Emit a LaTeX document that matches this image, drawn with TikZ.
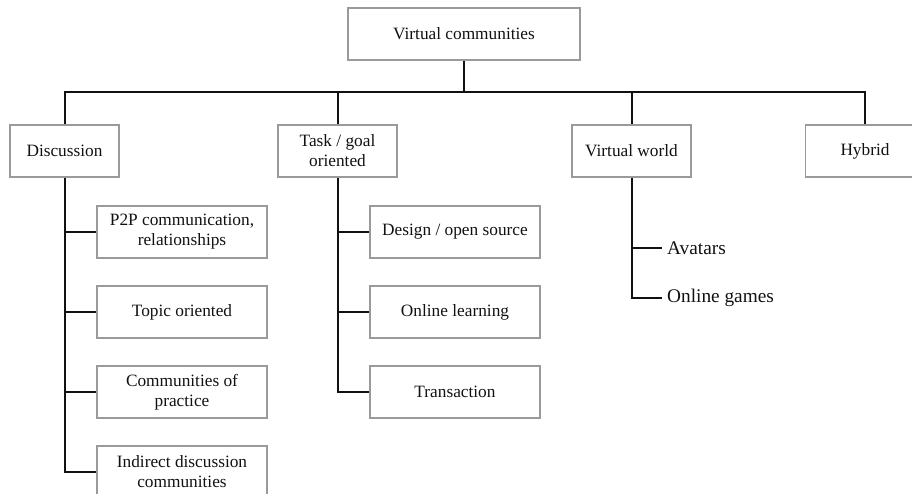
\documentclass[tikz,border=0pt]{standalone}
\usepackage{fontspec}
\setmainfont{Liberation Serif}
\definecolor{boxgray}{HTML}{9A9A9A}
\definecolor{inkblack}{HTML}{111111}
\begin{document}
\begin{tikzpicture}[x=1pt,y=-1pt,
  txt/.style={font=\fontsize{17.3}{20}\selectfont, text=inkblack},
  box/.style={txt, draw=boxgray, line width=1.7pt, rectangle, align=center,
              minimum height=52pt, inner sep=0pt},
  topbox/.style={box, minimum width=232pt},
  catbox/.style={box, minimum width=119pt},
  subbox/.style={box, minimum width=170pt},
  leaf/.style={font=\fontsize{19.3}{22}\selectfont, text=inkblack,
               anchor=west, inner xsep=5pt, inner ysep=0pt},
  wire/.style={line width=2pt, draw=inkblack}]
\useasboundingbox (0,0) rectangle (912,493);

% root and the four community types
\node[topbox] (root) at (464,34) {Virtual communities};
\node[catbox, minimum width=109pt] (disc) at (64.5,151) {Discussion};
\node[catbox] (task) at (337.5,151) {Task / goal\\oriented};
\node[catbox] (vw)   at (631.5,151) {Virtual world};
\node[catbox] (hyb)  at (865,151) {Hybrid};

% discussion subtypes
\node[subbox] (d1) at (182,232) {P2P communication,\\relationships};
\node[subbox] (d2) at (182,312) {Topic oriented};
\node[subbox] (d3) at (182,392) {Communities of\\practice};
\node[subbox] (d4) at (182,472) {Indirect discussion\\communities};

% task / goal oriented subtypes
\node[subbox] (t1) at (455,232) {Design / open source};
\node[subbox] (t2) at (455,312) {Online learning};
\node[subbox] (t3) at (455,392) {Transaction};

% virtual world subtypes
\node[leaf] (v1) at (662,248) {Avatars};
\node[leaf] (v2) at (662,298) {Online games};

% top-level bus
\coordinate (bus) at (464,92);
\draw[wire] (root.south) -- (bus);
\draw[wire] (disc.north) -- (disc.north |- bus) -- (hyb.north |- bus) -- (hyb.north);
\draw[wire] (task.north) -- (task.north |- bus);
\draw[wire] (vw.north) -- (vw.north |- bus);

% discussion branch
\draw[wire] (disc.south) |- (d4.west);
\foreach \n in {d1,d2,d3}
  \draw[wire] (disc.south |- \n.west) -- (\n.west);

% task branch
\draw[wire] (task.south) |- (t3.west);
\foreach \n in {t1,t2}
  \draw[wire] (task.south |- \n.west) -- (\n.west);

% virtual world branch
\draw[wire] (vw.south) |- (v2.west);
\draw[wire] (vw.south |- v1.west) -- (v1.west);
\end{tikzpicture}
\end{document}
